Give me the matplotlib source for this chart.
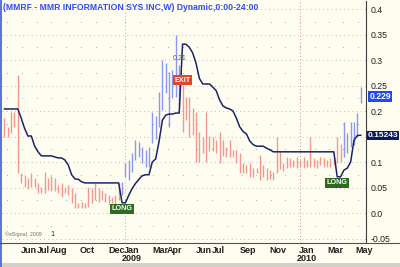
import matplotlib
matplotlib.use('Agg')
import matplotlib.pyplot as plt
import matplotlib.dates as mdates
import numpy as np
import pandas as pd

plt.rcParams['font.family'] = ['Liberation Sans', 'DejaVu Sans']

title = "(MMRF - MMR INFORMATION SYS INC,W) Dynamic,0:00-24:00"
start_date = "2008-04-25"

highs = [0.186, 0.169, 0.198, 0.198, 0.270, 0.078, 0.075, 0.069, 0.078, 0.069,
         0.059, 0.051, 0.080, 0.069, 0.073, 0.069, 0.055, 0.059, 0.051, 0.055,
         0.049, 0.039, 0.020, 0.022, 0.020, 0.051, 0.049, 0.059, 0.049, 0.045,
         0.039, 0.035, 0.031, 0.035, 0.059, 0.061, 0.098, 0.104, 0.118, 0.143,
         0.139, 0.129, 0.124, 0.129, 0.198, 0.190, 0.237, 0.300, 0.294, 0.276,
         0.280, 0.350, 0.290, 0.251, 0.227, 0.227, 0.206, 0.198, 0.159, 0.149,
         0.198, 0.151, 0.149, 0.143, 0.159, 0.143, 0.129, 0.143, 0.124, 0.124,
         0.118, 0.098, 0.094, 0.098, 0.088, 0.088, 0.114, 0.094, 0.088, 0.084,
         0.080, 0.149, 0.122, 0.098, 0.110, 0.108, 0.104, 0.110, 0.104, 0.110,
         0.104, 0.149, 0.108, 0.104, 0.110, 0.108, 0.104, 0.108, 0.108, 0.149,
         0.135, 0.178, 0.157, 0.178, 0.178, 0.196, 0.247]
lows = [0.149, 0.149, 0.157, 0.169, 0.078, 0.059, 0.051, 0.047, 0.051, 0.051,
        0.039, 0.039, 0.039, 0.045, 0.043, 0.043, 0.039, 0.031, 0.039, 0.035,
        0.020, 0.010, 0.010, 0.010, 0.010, 0.012, 0.020, 0.025, 0.022, 0.025,
        0.022, 0.018, 0.020, 0.014, 0.025, 0.035, 0.071, 0.065, 0.080, 0.104,
        0.110, 0.098, 0.090, 0.090, 0.137, 0.145, 0.169, 0.202, 0.235, 0.169,
        0.225, 0.227, 0.210, 0.159, 0.182, 0.149, 0.153, 0.100, 0.100, 0.118,
        0.100, 0.122, 0.122, 0.118, 0.098, 0.112, 0.110, 0.110, 0.110, 0.098,
        0.078, 0.078, 0.078, 0.071, 0.071, 0.078, 0.065, 0.071, 0.065, 0.067,
        0.065, 0.078, 0.086, 0.082, 0.088, 0.090, 0.090, 0.088, 0.090, 0.088,
        0.090, 0.090, 0.090, 0.088, 0.094, 0.090, 0.090, 0.090, 0.094, 0.098,
        0.100, 0.110, 0.118, 0.129, 0.133, 0.149, 0.216]
stop = [0.204, 0.204, 0.204, 0.204, 0.204, 0.186, 0.166, 0.151, 0.151, 0.131,
        0.120, 0.112, 0.112, 0.112, 0.112, 0.110, 0.108, 0.108, 0.104, 0.094,
        0.075, 0.067, 0.066, 0.061, 0.059, 0.059, 0.059, 0.059, 0.059, 0.059,
        0.059, 0.059, 0.059, 0.059, 0.059, 0.020, 0.020, 0.035, 0.048, 0.058,
        0.066, 0.073, 0.075, 0.075, 0.100, 0.106, 0.140, 0.182, 0.192, 0.194,
        0.194, 0.196, 0.196, 0.331, 0.331, 0.325, 0.314, 0.294, 0.264, 0.253,
        0.253, 0.253, 0.247, 0.240, 0.222, 0.210, 0.206, 0.204, 0.200, 0.186,
        0.169, 0.160, 0.155, 0.141, 0.134, 0.131, 0.131, 0.131, 0.127, 0.124,
        0.120, 0.120, 0.120, 0.120, 0.120, 0.120, 0.120, 0.120, 0.120, 0.120,
        0.120, 0.120, 0.120, 0.120, 0.120, 0.120, 0.120, 0.120, 0.120, 0.071,
        0.071, 0.084, 0.088, 0.100, 0.143, 0.152, 0.15243]
last_close = 0.229
exit_price_text = "0.21"
signals = [("LONG", 35), ("EXIT", 53), ("LONG", 99)]
long_ranges = [(35, 53), (101, 200)]

yticks = [0.4, 0.35, 0.3, 0.25, 0.2, 0.15, 0.1, 0.05, 0.0, -0.05]
ytick_labels = ["0.4", "0.35", "0.3", "0.25", "0.2", "0.15", "0.1", "0.05", "0.0", "-0.05"]
month_labels = ["2008-06", "2008-07", "2008-08", "2008-10", "2008-12", "2009-01",
                "2009-03", "2009-04", "2009-06", "2009-07", "2009-09", "2009-11",
                "2010-01", "2010-03", "2010-05"]
year_labels = [("2009-01", "2009"), ("2010-01", "2010")]

dates = pd.date_range(start_date, periods=len(highs), freq="7D")

BG = "#FFFDF0"
fig = plt.figure(figsize=(4.0, 2.67), dpi=100, facecolor=BG)
ax = fig.add_axes([2/400, 24/267, 364/400, 242/267])
ax.set_facecolor(BG)
ax.set_xlim(pd.Timestamp("2008-04-20"), pd.Timestamp("2010-05-18"))
ax.set_ylim(-0.0588, 0.4157)

# grid
for v in yticks:
    ax.axhline(v, color="#A8A8A8", lw=0.6, ls=(0, (1, 4)), zorder=0)
months = pd.date_range("2008-05-01", "2010-05-01", freq="MS")
minor_y = np.arange(-0.025, 0.41, 0.05)
mx, my = np.meshgrid(mdates.date2num(months), minor_y)
ax.scatter(mx.ravel(), my.ravel(), s=0.6, color="#A8A8A8", lw=0, zorder=0)
ax.axvline(pd.Timestamp("2009-01-01"), color="#A0A0A0", lw=0.6, ls=(0, (1, 3)), zorder=0)
ax.axvline(pd.Timestamp("2010-01-01"), color="#B07070", lw=0.6, ls=(0, (1, 3)), zorder=0)

# bars
def is_long(i):
    return any(a <= i < b for a, b in long_ranges)
colors = ["#8A98F0" if is_long(i) else "#F29890" for i in range(len(highs))]
ax.vlines(dates, lows, highs, colors=colors, lw=1.0, zorder=2)

# stop line
ax.plot(dates, stop, color="#1A2468", lw=1.1, zorder=3)

# signals
for name, i in signals:
    if name == "LONG":
        ax.text(dates[i], stop[i] - 0.012, name, ha="center", va="center",
                fontsize=5.2, fontweight="bold", color="white", zorder=5,
                bbox=dict(boxstyle="square,pad=0.2", fc="#2E6A22", ec="none"))
    else:
        ax.text(dates[i], highs[i] + 0.009, name, ha="center", va="center",
                fontsize=5.2, fontweight="bold", color="white", zorder=5,
                bbox=dict(boxstyle="square,pad=0.2", fc="#E2472B", ec="none"))
        ax.text(dates[i - 1], highs[i - 1] + 0.012, exit_price_text, ha="center",
                va="center", fontsize=5, color="#606060", zorder=5)

# right axis
ax.yaxis.tick_right()
ax.set_yticks(yticks)
ax.set_yticklabels(ytick_labels)
ax.tick_params(axis="y", length=0, pad=3, labelsize=6.3, labelcolor="#202020")
for s in ["top", "left", "bottom"]:
    ax.spines[s].set_visible(False)
ax.spines["right"].set_color("#404040")
ax.spines["right"].set_linewidth(0.8)

# x labels at mid-month
xt = [pd.Timestamp(m + "-15") for m in month_labels]
ax.set_xticks(xt)
ax.set_xticklabels([pd.Timestamp(m + "-01").strftime("%b") for m in month_labels])
ax.tick_params(axis="x", length=0, pad=2, labelsize=6.5, labelcolor="#202020")
for lbl in ax.get_xticklabels():
    lbl.set_fontweight("bold")
for m, yl in year_labels:
    ax.text(pd.Timestamp(m + "-15"), -0.066, yl, transform=ax.get_xaxis_transform(),
            ha="center", va="center", fontsize=6.5, fontweight="bold", color="#202020")

# right value labels
ax.annotate(f"{last_close:.3f}", xy=(1.0, last_close), xycoords=("axes fraction", "data"),
            xytext=(2.5, 0), textcoords="offset points", ha="left", va="center",
            fontsize=6.2, fontweight="bold", color="white", zorder=10,
            bbox=dict(boxstyle="square,pad=0.12", fc="#1E4BF0", ec="none"), annotation_clip=False)
ax.annotate(f"{stop[-1]:.5f}", xy=(1.0, stop[-1]), xycoords=("axes fraction", "data"),
            xytext=(1, 0), textcoords="offset points", ha="left", va="center",
            fontsize=6.0, fontweight="bold", color="white", zorder=10,
            bbox=dict(boxstyle="square,pad=0.1", fc="#0C1A5A", ec="none"), annotation_clip=False)

# title
ax.text(0.003, 0.992, title, transform=ax.transAxes, ha="left", va="top",
        fontsize=6.25, fontweight="bold", color="#2F4FE8")
ax.text(0.008, 0.035, "\u00a9eSignal, 2009", transform=ax.transAxes, ha="left", va="center",
        fontsize=3.8, color="#707070")
ax.text(0.132, 0.035, "1", transform=ax.transAxes, ha="left", va="center",
        fontsize=5.5, color="#303030")

# chrome
fig.add_artist(plt.Line2D([0, 1], [24/267, 24/267], color="#505050", lw=0.8))
fig.patches.append(plt.Rectangle((0, 0), 1, 4/267, transform=fig.transFigure, fc="#D4D0C8", ec="none"))
fig.patches.append(plt.Rectangle((0, 0), 1.5/400, 1, transform=fig.transFigure, fc="#5A78D0", ec="none"))

fig.savefig("out.png", dpi=100, facecolor=BG)
